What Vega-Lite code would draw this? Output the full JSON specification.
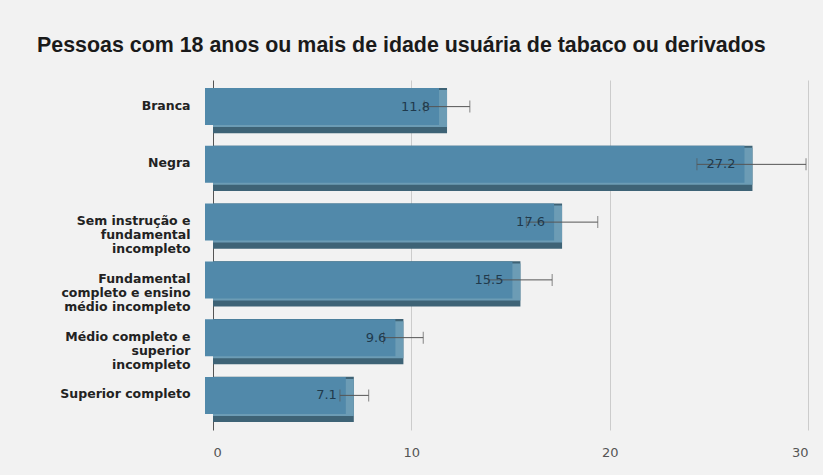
{
  "$schema": "https://vega.github.io/schema/vega-lite/v6.json",
  "autosize": "none",
  "width": 595,
  "height": 350,
  "padding": {"left": 213, "top": 80, "right": 15, "bottom": 45},
  "background": "#f2f2f2",
  "config": {"view": {"stroke": null}, "font": "Liberation Sans"},
  "title": {
    "text": "Pessoas com 18 anos ou mais de idade usuária de tabaco ou derivados",
    "anchor": "start",
    "frame": "group",
    "dx": -176,
    "offset": 24,
    "fontSize": 21.4,
    "fontWeight": "bold",
    "color": "#1a1a1a",
    "font": "Liberation Sans"
  },
  "data": {
    "values": [
      {"cat": "Branca", "v": 11.8, "lo": 10.65, "hi": 12.95},
      {"cat": "Negra", "v": 27.2, "lo": 24.4, "hi": 29.9},
      {"cat": "Sem instrução e|fundamental|incompleto", "v": 17.6, "lo": 15.8, "hi": 19.4},
      {"cat": "Fundamental|completo e ensino|médio incompleto", "v": 15.5, "lo": 13.9, "hi": 17.1},
      {"cat": "Médio completo e|superior|incompleto", "v": 9.6, "lo": 8.6, "hi": 10.6},
      {"cat": "Superior completo", "v": 7.1, "lo": 6.4, "hi": 7.85}
    ]
  },
  "encoding": {
    "y": {
      "field": "cat",
      "type": "nominal",
      "sort": null,
      "title": null,
      "scale": {"paddingInner": 0.22, "paddingOuter": 0.14},
      "axis": {
        "labelExpr": "split(datum.label, '|')",
        "labelFont": "DejaVu Sans",
        "labelFontWeight": "bold",
        "labelFontSize": 12.5,
        "labelColor": "#222222",
        "labelLineHeight": 14,
        "labelPadding": 23,
        "labelOffset": -5,
        "labelLimit": 210,
        "ticks": false,
        "domain": false
      }
    }
  },
  "layer": [
    {
      "mark": {"type": "bar", "color": "#3e6376"},
      "encoding": {
        "x": {
          "field": "v",
          "type": "quantitative",
          "title": null,
          "scale": {"domain": [0, 30]},
          "axis": {
            "values": [0, 10, 20, 30],
            "grid": true,
            "gridColor": {"condition": {"test": "datum.value === 0", "value": "#555555"}, "value": "#cccccc"},
            "domain": false,
            "ticks": false,
            "labelFont": "DejaVu Sans",
            "labelColor": "#555555",
            "labelFontSize": 13,
            "labelPadding": 16
          }
        }
      }
    },
    {
      "mark": {"type": "bar", "color": "#6c9cb5", "height": 37, "yOffset": -2},
      "encoding": {"x": {"field": "v", "type": "quantitative"}}
    },
    {
      "mark": {"type": "bar", "color": "#5189aa", "height": 37, "yOffset": -4, "xOffset": -8, "x2Offset": -8},
      "encoding": {"x": {"field": "v", "type": "quantitative"}}
    },
    {
      "mark": {"type": "rule", "color": "#555555", "strokeWidth": 1, "yOffset": -4},
      "encoding": {"x": {"field": "lo", "type": "quantitative"}, "x2": {"field": "hi"}}
    },
    {
      "mark": {"type": "tick", "orient": "vertical", "color": "#555555", "thickness": 1, "size": 12, "yOffset": -4},
      "encoding": {"x": {"field": "lo", "type": "quantitative"}}
    },
    {
      "mark": {"type": "tick", "orient": "vertical", "color": "#555555", "thickness": 1, "size": 12, "yOffset": -4},
      "encoding": {"x": {"field": "hi", "type": "quantitative"}}
    },
    {
      "mark": {"type": "text", "align": "right", "baseline": "middle", "dx": -17, "yOffset": -4, "fontSize": 13, "color": "#1f3a4d", "font": "DejaVu Sans"},
      "encoding": {
        "x": {"field": "v", "type": "quantitative"},
        "text": {"field": "v", "type": "quantitative", "format": ".1f"}
      }
    }
  ]
}
